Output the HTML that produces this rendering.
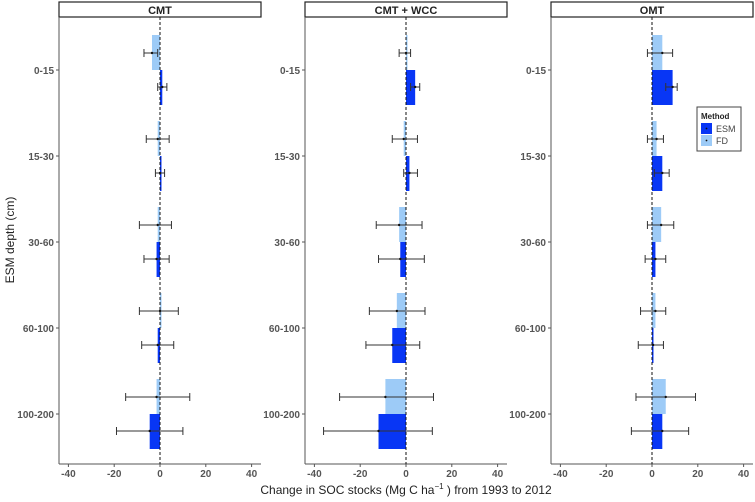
<!DOCTYPE html>
<html><head><meta charset="utf-8"><style>
body{margin:0;background:#fff}
svg{display:block;font-family:"Liberation Sans",Arial,sans-serif}
</style></head><body>
<svg id="chart" width="755" height="502" viewBox="0 0 755 502"></svg>
<script>
const panels = ["CMT", "CMT + WCC", "OMT"];
const depths = ["0-15", "15-30", "30-60", "60-100", "100-200"];
const xTicks = [-40, -20, 0, 20, 40];
// [panel][depth] mean, low, high
const fdMean = [[-3.5,-1,-1,0,-1.5],[0,-1,-3,-4,-9],[4.5,2,4,1.5,6]];
const fdLow  = [[-7,-6,-9,-9,-15],[-3,-6,-13,-16,-29],[-2,-2,-2,-5,-7]];
const fdHigh = [[-1,4,5,8,13],[2,5,7,8.3,12],[9,5,9.5,6,19]];
const esmMean = [[1,0,-1.5,-1,-4.5],[4,1.5,-2.5,-6,-12],[9,4.5,1.5,0.5,4.5]];
const esmLow  = [[-1,-2,-7,-8,-19],[2,-1,-12,-17.5,-36],[6,1,-3,-6,-9]];
const esmHigh = [[3,2,4,6,10],[6,5,8,6,11.5],[11,7.5,6,5,16]];

const NS = "http://www.w3.org/2000/svg";
const svg = document.getElementById("chart");
function el(tag, attrs, parent) {
  const e = document.createElementNS(NS, tag);
  for (const k in attrs) e.setAttribute(k, attrs[k]);
  (parent || svg).appendChild(e);
  return e;
}
const panelLeft = [59, 305, 551];
const panelW = 202;
const plotTop = 17, plotBottom = 464;
const ESM = "#0836f5", FD = "#9dcbf7";
function yScale(i) { return 70 + i * 86; }

panels.forEach((name, p) => {
  const L = panelLeft[p];
  const x = v => L + 101 + v * 2.29;
  const g = el("g", {});
  
  
  const strip = el("rect", {x: L, y: 2, width: panelW, height: 15, fill: "#fff", stroke: "#222", "stroke-width": 1.2}, g);
  
  
  const st = el("text", {x: L + panelW / 2, y: 14, "text-anchor": "middle", "font-size": 11, "font-weight": "bold", fill: "#222"}, g);
  st.textContent = name;
  
  
  const ya = el("line", {x1: L, y1: plotTop, x2: L, y2: plotBottom, stroke: "#555", "stroke-width": 1}, g);
  
  
  const xa = el("line", {x1: L, y1: plotBottom, x2: L + panelW, y2: plotBottom, stroke: "#555", "stroke-width": 1}, g);
  
  
  xTicks.forEach(t => {
    el("line", {x1: x(t), y1: plotBottom, x2: x(t), y2: plotBottom + 3, stroke: "#555"}, g);
    const tl = el("text", {x: x(t), y: plotBottom + 13, "text-anchor": "middle", "font-size": 10, "font-weight": "bold", fill: "#555"}, g);
    tl.textContent = t;
    
    
  });
  depths.forEach((d, i) => {
    const y = yScale(i);
    el("line", {x1: L - 3, y1: y, x2: L, y2: y, stroke: "#555"}, g);
    const tl = el("text", {x: L - 5, y: y + 4, "text-anchor": "end", "font-size": 10, "font-weight": "bold", fill: "#555"}, g);
    tl.textContent = d;
    
    
    const series = [
      {m: fdMean[p][i], lo: fdLow[p][i], hi: fdHigh[p][i], c: FD, y0: y - 35, ey: y - 17, n: 'fd'},
      {m: esmMean[p][i], lo: esmLow[p][i], hi: esmHigh[p][i], c: ESM, y0: y, ey: y + 17, n: 'esm'}
    ];
    series.forEach(s => {
      const x0 = Math.min(x(0), x(s.m)), w = Math.max(Math.abs(x(s.m) - x(0)), 1.5);
      const b = el("rect", {x: x0, y: s.y0, width: w, height: 35, fill: s.c}, g);
      
      
      const e = el("path", {d: `M${x(s.lo)},${s.ey}H${x(s.hi)}M${x(s.lo)},${s.ey-4}V${s.ey+4}M${x(s.hi)},${s.ey-4}V${s.ey+4}`, stroke: "#333", "stroke-width": 1, fill: "none"}, g);
      
      
      const pt = el("circle", {cx: x(s.m), cy: s.ey, r: 1.2, fill: "#111"}, g);
      
      
    });
  });
  const z = el("line", {x1: x(0), y1: plotTop, x2: x(0), y2: plotBottom, stroke: "#111", "stroke-width": 1, "stroke-dasharray": "3,2"}, g);
  
  
});

const yt = el("text", {x: 14, y: 240, transform: "rotate(-90 14 240)", "text-anchor": "middle", "font-size": 12, fill: "#222"});
yt.textContent = "ESM depth (cm)";


const xt = el("text", {x: 406, y: 494, "text-anchor": "middle", "font-size": 12, fill: "#222"});
xt.innerHTML = 'Change in SOC stocks (Mg C ha<tspan dy="-5" font-size="8">−1</tspan><tspan dy="5"> ) from 1993 to 2012</tspan>';



const lg = el("g", {});


el("rect", {x: 697, y: 107, width: 44, height: 44, fill: "#fff", stroke: "#444", "stroke-width": 1}, lg);
const lt = el("text", {x: 701, y: 119, "font-size": 8, "font-weight": "bold", fill: "#222"}, lg);
lt.textContent = "Method";
[["ESM", ESM, 123], ["FD", FD, 135]].forEach(k => {
  const r = el("rect", {x: 701, y: k[2], width: 11, height: 11, fill: k[1]}, lg);
  
  
  el("circle", {cx: 706.5, cy: k[2] + 5.5, r: 0.9, fill: "#111"}, lg);
  const t = el("text", {x: 716, y: k[2] + 9, "font-size": 9, fill: "#444"}, lg);
  t.textContent = k[0];
  
  
});
</script>
</body></html>
